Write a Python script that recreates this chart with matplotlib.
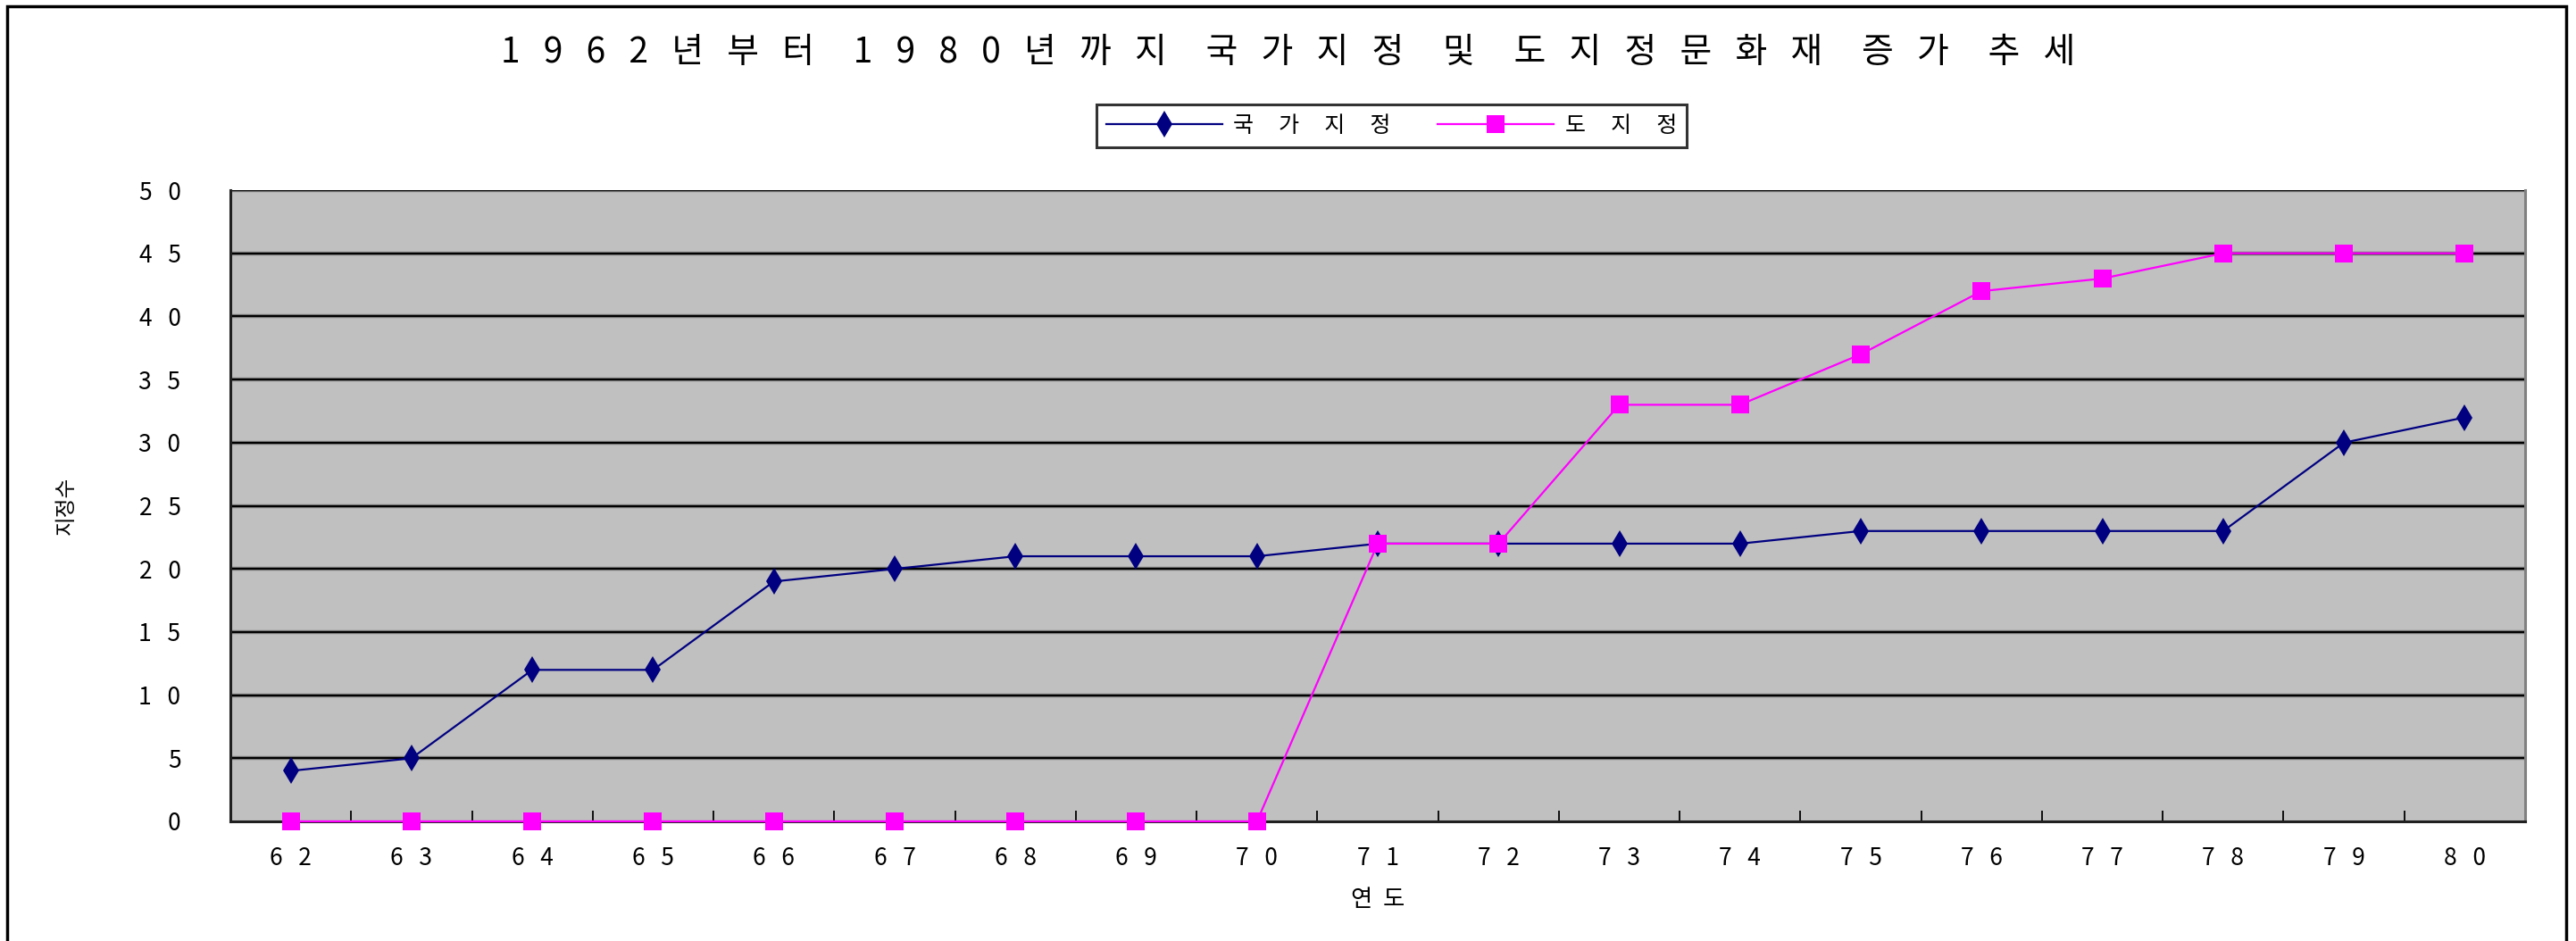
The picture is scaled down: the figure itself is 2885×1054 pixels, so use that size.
import matplotlib
matplotlib.use("Agg")
import matplotlib.pyplot as plt
from matplotlib.patches import Rectangle

plt.rcParams['font.family'] = ['Noto Sans CJK KR', 'DejaVu Sans']

years = ["62", "63", "64", "65", "66", "67", "68", "69", "70", "71",
         "72", "73", "74", "75", "76", "77", "78", "79", "80"]
national = [4, 5, 12, 12, 19, 20, 21, 21, 21, 22, 22, 22, 22, 23, 23, 23, 23, 30, 32]
provincial = [0, 0, 0, 0, 0, 0, 0, 0, 0, 22, 22, 33, 33, 37, 42, 43, 45, 45, 45]
y_ticks = [0, 5, 10, 15, 20, 25, 30, 35, 40, 45, 50]

title = "1962년부터 1980년까지 국가지정 및 도지정문화재 증가 추세"


def spaced(s, gap="   "):
    return gap.join(s)


W, H = 2885, 1054
fig = plt.figure(figsize=(W / 100, H / 100), dpi=100)
fig.patch.set_facecolor("white")

# outer chart frame (bottom edge runs past the canvas)
fig.patches.append(Rectangle((8 / W, -0.05), (2874 - 8) / W, 1.05 - 7 / H,
                             transform=fig.transFigure, fill=False,
                             edgecolor="black", linewidth=2.5, zorder=0))

ax = fig.add_axes([258 / W, 1 - 920 / H, (2828 - 258) / W, (920 - 213) / H])
ax.set_facecolor("#C0C0C0")

x = list(range(len(years)))
ax.set_xlim(-0.5, len(years) - 0.5)
ax.set_ylim(0, 50)

# horizontal gridlines
for v in y_ticks[1:]:
    ax.axhline(v, color="#808080", lw=3.2, zorder=1)
    ax.axhline(v, color="black", lw=1.6, zorder=1.1)

ax.plot(x, national, color="#000080", lw=1.6, marker="d", ms=15,
        markeredgewidth=0, label=spaced("국가지정", "     "), zorder=3, clip_on=False)
ax.plot(x, provincial, color="#FF00FF", lw=1.6, marker="s", ms=14,
        markeredgewidth=0, label=spaced("도지정", "     "), zorder=4, clip_on=False)

ax.set_yticks(y_ticks)
ax.set_yticklabels([spaced(str(v)) for v in y_ticks], fontsize=19)
ax.tick_params(axis="y", length=0, pad=40)

ax.set_xticks(x)
ax.set_xticklabels([spaced(y) for y in years], fontsize=19)
ax.tick_params(axis="x", which="major", length=0, pad=20)
ax.set_xticks([i + 0.5 for i in x[:-1]], minor=True)
ax.tick_params(axis="x", which="minor", direction="in", length=9, width=1.3,
               color="black")

for side in ("left", "bottom"):
    ax.spines[side].set_color("#202020")
    ax.spines[side].set_linewidth(2.2)
ax.spines["right"].set_color("#808080")
ax.spines["right"].set_linewidth(2.2)
ax.spines["top"].set_visible(False)

ax.set_xlabel(spaced("연도", "  "), fontsize=19, labelpad=14)
ax.set_ylabel("지정수", fontsize=17, labelpad=50)

fig.text(0.5, 1 - 59 / H,
         "     ".join(spaced(w) for w in title.split(" ")),
         ha="center", va="center", fontsize=28)

leg = ax.legend(loc="center", bbox_to_anchor=((1213 + 1904) / 2 / W, 1 - 141 / H),
                bbox_transform=fig.transFigure, ncol=2, fontsize=18,
                frameon=True, fancybox=False, shadow=False, handlelength=5.2,
                columnspacing=2.1, handletextpad=0.5, borderpad=0.45)
leg.get_frame().set_edgecolor("black")
leg.get_frame().set_linewidth(2.2)

fig.savefig("out.png", dpi=100)
